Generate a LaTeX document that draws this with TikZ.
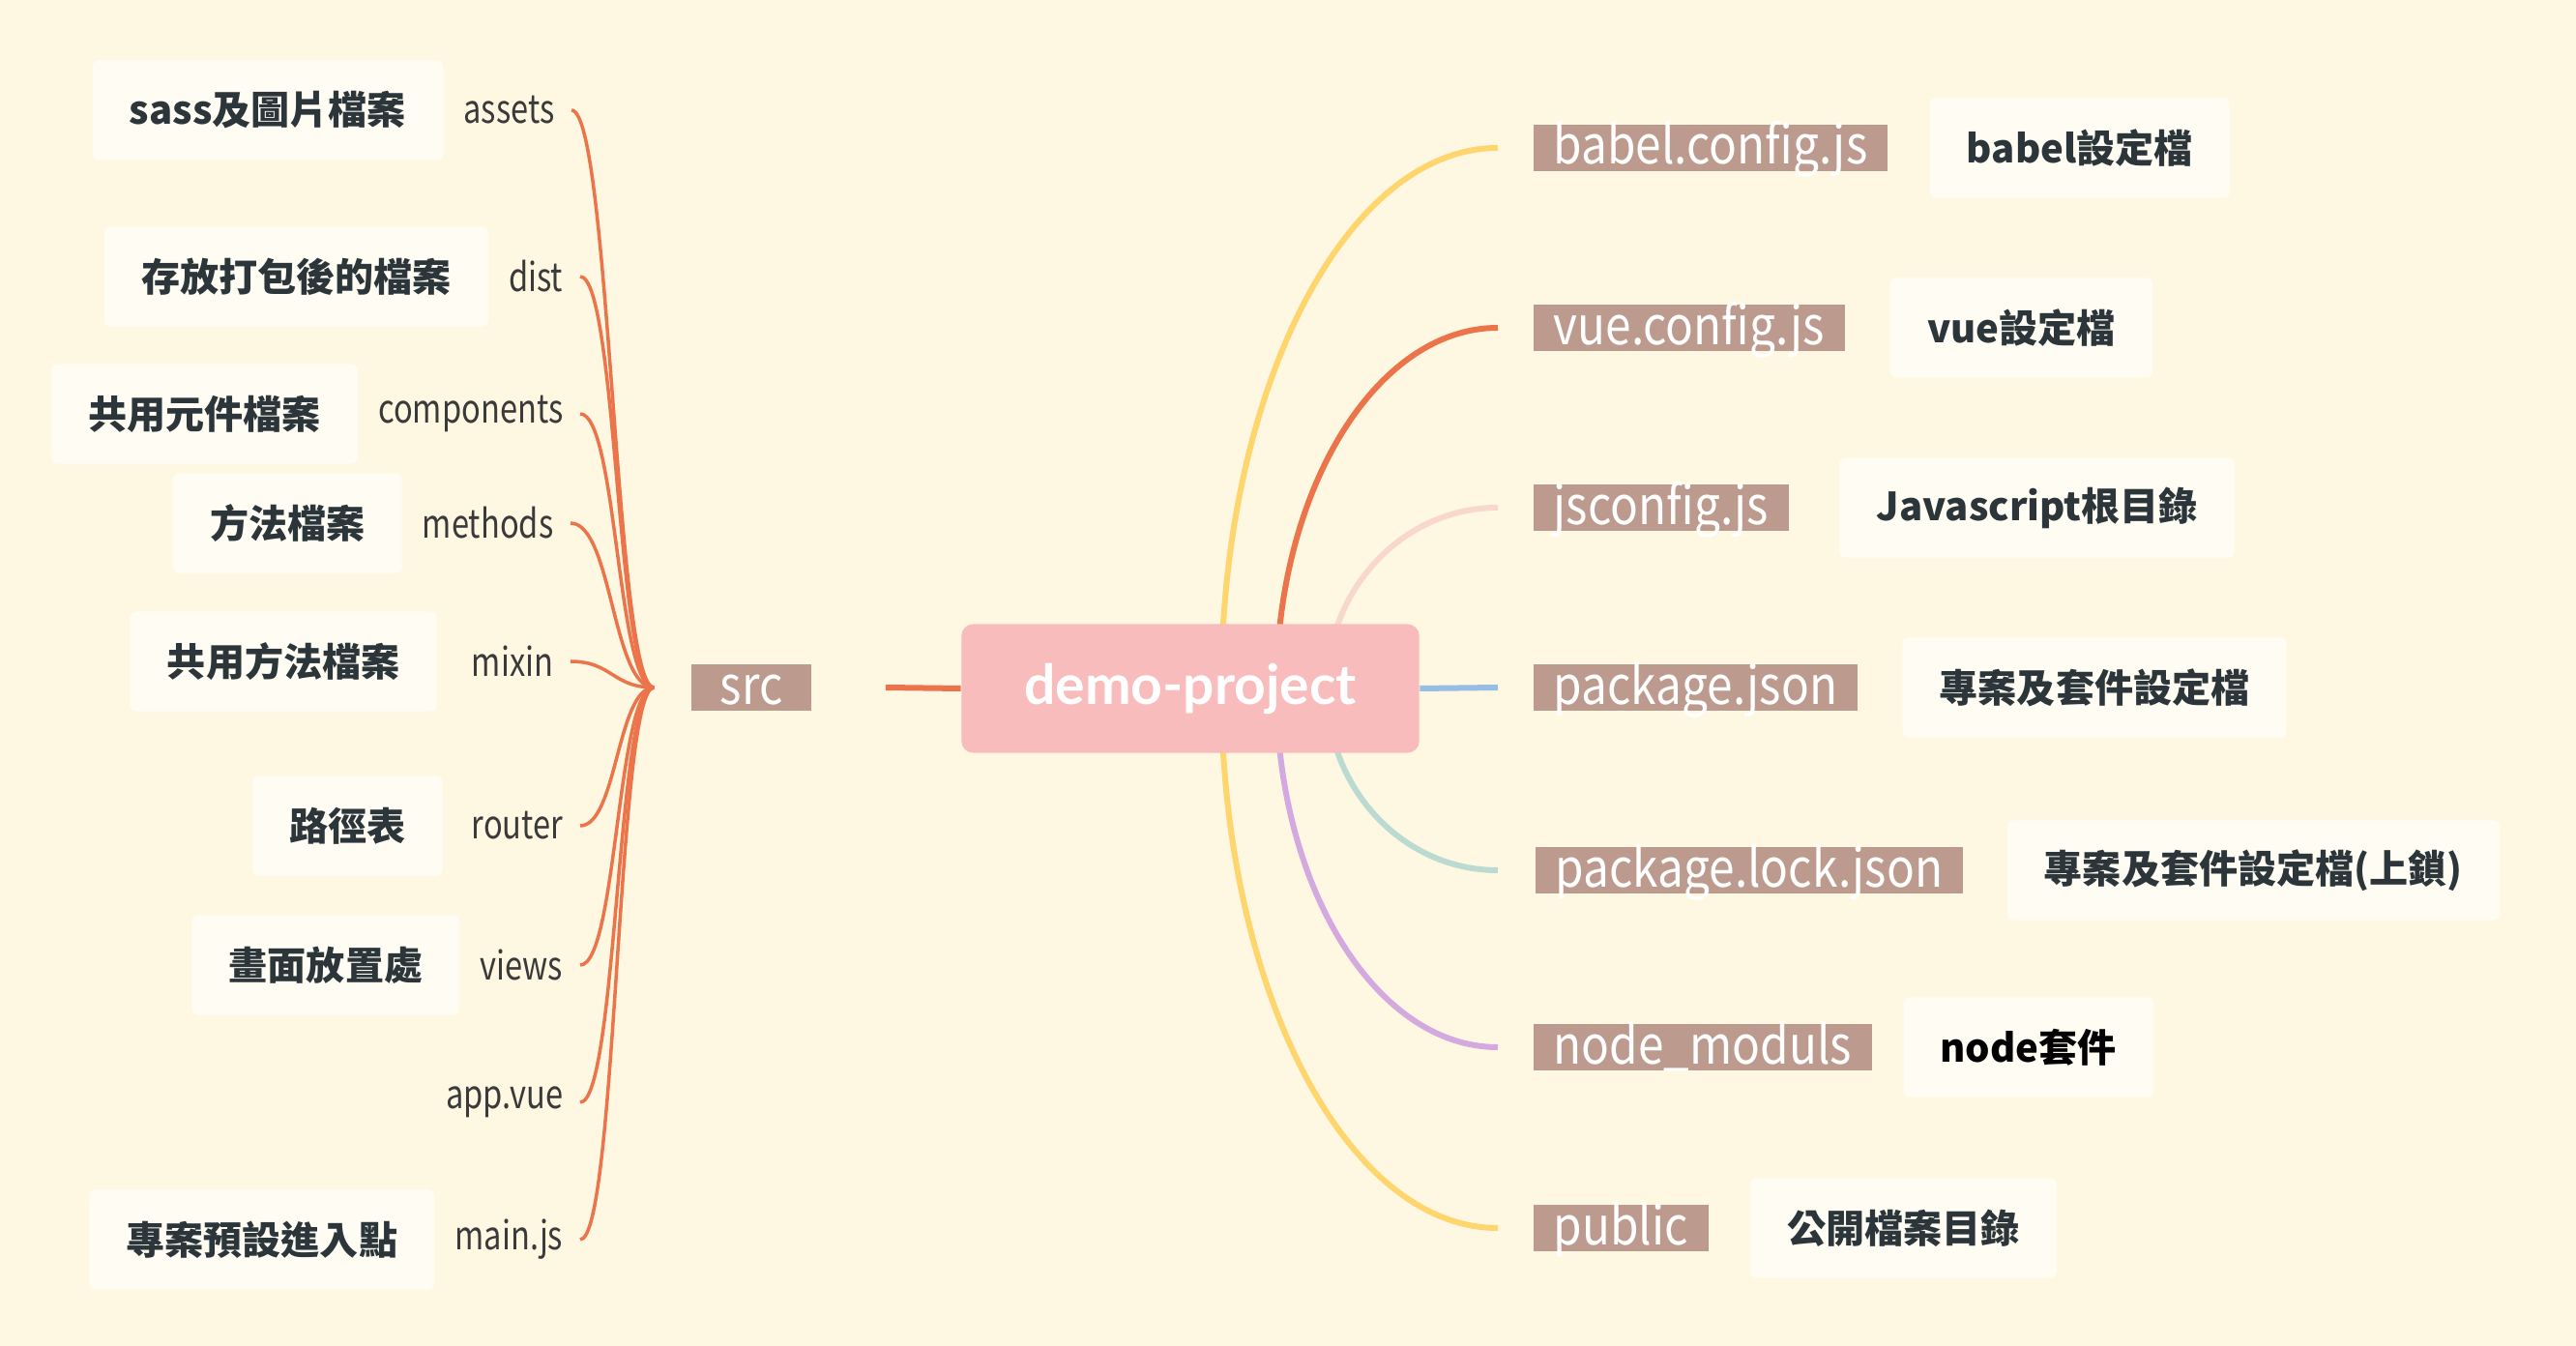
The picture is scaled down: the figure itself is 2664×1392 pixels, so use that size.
\documentclass[tikz,border=0pt]{standalone}
\usepackage{fontspec}
\setmainfont{Noto Sans CJK TC}
\newfontfamily\rootfont{Lato}
\newfontfamily\filefont[FakeStretch=0.87]{Noto Sans CJK TC}
\newfontfamily\dirfont[FakeStretch=0.8]{Noto Sans CJK TC}
\usetikzlibrary{positioning}
\pgfdeclarelayer{bg}
\pgfsetlayers{bg,main}

\definecolor{paper}{HTML}{FEF8E2}
\definecolor{rootpink}{HTML}{F9BCBC}
\definecolor{filebrown}{HTML}{BD9A8E}
\definecolor{descfill}{HTML}{FFFDF3}
\definecolor{desctext}{HTML}{2B353A}
\definecolor{labeltext}{HTML}{3A3A3A}
\definecolor{branchorange}{HTML}{EC744A}
\definecolor{branchyellow}{HTML}{FFD56E}
\definecolor{branchpeach}{HTML}{F8D8CA}
\definecolor{branchblue}{HTML}{96BDE5}
\definecolor{branchteal}{HTML}{BBDAD2}
\definecolor{branchlilac}{HTML}{D4A9DF}

\tikzset{
  rootbox/.style={fill=rootpink, rounded corners=0.12cm, minimum width=4.73cm,
    minimum height=1.33cm, text=white, font=\rootfont\bfseries\fontsize{16.2pt}{19pt}\selectfont},
  filebox/.style={fill=filebrown, text=white, font=\filefont\fontsize{15.6pt}{18pt}\selectfont,
    text height=0.34cm, text depth=0cm, inner ysep=0.07cm, inner xsep=0.21cm},
  descbox/.style={fill=descfill, rounded corners=0.06cm, minimum height=1.03cm,
    inner xsep=0.38cm, text=desctext, font=\bfseries\fontsize{11.4pt}{14pt}\selectfont},
  dirlabel/.style={anchor=east, inner xsep=0.17cm, text=labeltext,
    font=\dirfont\fontsize{11.6pt}{14pt}\selectfont},
  srcbranch/.style={draw=branchorange, line width=0.035cm},
  rootbranch/.style={line width=0.06cm},
}

\begin{document}
\begin{tikzpicture}[x=0.01cm, y=-0.01cm]

  \useasboundingbox (0,0) rectangle (2664,1392);
  \begin{pgfonlayer}{bg}
    \fill[paper] (0,0) rectangle (2664,1392);
  \end{pgfonlayer}

  %--- Root and src
  \node[rootbox] (root) at (1231,712) {demo-project};
  \node[filebox, minimum width=1.24cm] (src) at (777,711) {src};
  \coordinate (srcjoin) at ([xshift=-0.38cm]src.west);

  %--- Folders inside src
  \node[dirlabel] (assets) at (591,114) {assets};
  \node[dirlabel] (dist) at (600,286) {dist};
  \node[dirlabel] (components) at (600,428) {components};
  \node[dirlabel] (methods) at (590,541) {methods};
  \node[dirlabel] (mixin) at (590,684) {mixin};
  \node[dirlabel] (router) at (600,854) {router};
  \node[dirlabel] (views) at (600,998) {views};
  \node[dirlabel] (appvue) at (600,1140) {app.vue};
  \node[dirlabel] (mainjs) at (600,1282) {main.js};

  \node[descbox, left=0.03cm of assets] (assetsdesc) {sass及圖片檔案};
  \node[descbox, left=0.03cm of dist] (distdesc) {存放打包後的檔案};
  \node[descbox, left=0.03cm of components] (componentsdesc) {共用元件檔案};
  \node[descbox, left=0.03cm of methods] (methodsdesc) {方法檔案};
  \node[descbox, left=0.18cm of mixin] (mixindesc) {共用方法檔案};
  \node[descbox, left=0.12cm of router] (routerdesc) {路徑表};
  \node[descbox, left=0.03cm of views] (viewsdesc) {畫面放置處};
  \node[descbox, left=0.03cm of mainjs] (mainjsdesc) {專案預設進入點};

  %--- Files in the project root
  \node[filebox, anchor=west] (babel) at (1585,153) {babel.config.js};
  \node[filebox, anchor=west] (vue) at (1585,339) {vue.config.js};
  \node[filebox, anchor=west] (jsconf) at (1585,525) {jsconfig.js};
  \node[filebox, anchor=west] (pkg) at (1585,711) {package.json};
  \node[filebox, anchor=west] (pkglock) at (1587,900) {package.lock.json};
  \node[filebox, anchor=west] (nodemod) at (1585,1083) {node\_moduls};
  \node[filebox, anchor=west] (public) at (1585,1270) {public};

  \node[descbox, right=0.42cm of babel] (babeldesc) {babel設定檔};
  \node[descbox, right=0.46cm of vue] (vuedesc) {vue設定檔};
  \node[descbox, right=0.51cm of jsconf] (jsconfdesc) {Javascript根目錄};
  \node[descbox, right=0.45cm of pkg] (pkgdesc) {專案及套件設定檔};
  \node[descbox, right=0.44cm of pkglock] (pkglockdesc) {專案及套件設定檔(上鎖)};
  \node[descbox, right=0.31cm of nodemod, text=black] (nodemoddesc) {node套件};
  \node[descbox, right=0.42cm of public] (publicdesc) {公開檔案目錄};

  %--- Branches
  \begin{pgfonlayer}{bg}
    \draw[srcbranch] (srcjoin) .. controls +(-40,0) and +(40,0) .. (assets.east);
    \draw[srcbranch] (srcjoin) .. controls +(-38,0) and +(38,0) .. (dist.east);
    \draw[srcbranch] (srcjoin) .. controls +(-38,0) and +(38,0) .. (components.east);
    \draw[srcbranch] (srcjoin) .. controls +(-43,0) and +(43,0) .. (methods.east);
    \draw[srcbranch] (srcjoin) .. controls +(-43,0) and +(43,0) .. (mixin.east);
    \draw[srcbranch] (srcjoin) .. controls +(-38,0) and +(38,0) .. (router.east);
    \draw[srcbranch] (srcjoin) .. controls +(-38,0) and +(38,0) .. (views.east);
    \draw[srcbranch] (srcjoin) .. controls +(-38,0) and +(38,0) .. (appvue.east);
    \draw[srcbranch] (srcjoin) .. controls +(-38,0) and +(38,0) .. (mainjs.east);

    \draw[rootbranch, branchorange] ([xshift=0.76cm]src.east) -- (root.west);

    \draw[rootbranch, branchyellow] ([xshift=0.32cm]root.center)
      .. controls +(0,-308) and +(-158,0) .. ([xshift=-0.36cm]babel.west);
    \draw[rootbranch, branchorange] ([xshift=0.89cm]root.center)
      .. controls +(0,-205) and +(-126,0) .. ([xshift=-0.36cm]vue.west);
    \draw[rootbranch, branchpeach] ([xshift=1.41cm]root.center)
      .. controls +(0,-103) and +(-98,0) .. ([xshift=-0.36cm]jsconf.west);
    \draw[rootbranch, branchblue] (root.east) -- ([xshift=-0.36cm]pkg.west);
    \draw[rootbranch, branchteal] ([xshift=1.41cm]root.center)
      .. controls +(0,104) and +(-98,0) .. ([xshift=-0.38cm]pkglock.west);
    \draw[rootbranch, branchlilac] ([xshift=0.89cm]root.center)
      .. controls +(0,205) and +(-126,0) .. ([xshift=-0.36cm]nodemod.west);
    \draw[rootbranch, branchyellow] ([xshift=0.32cm]root.center)
      .. controls +(0,308) and +(-158,0) .. ([xshift=-0.36cm]public.west);
  \end{pgfonlayer}

\end{tikzpicture}
\end{document}
